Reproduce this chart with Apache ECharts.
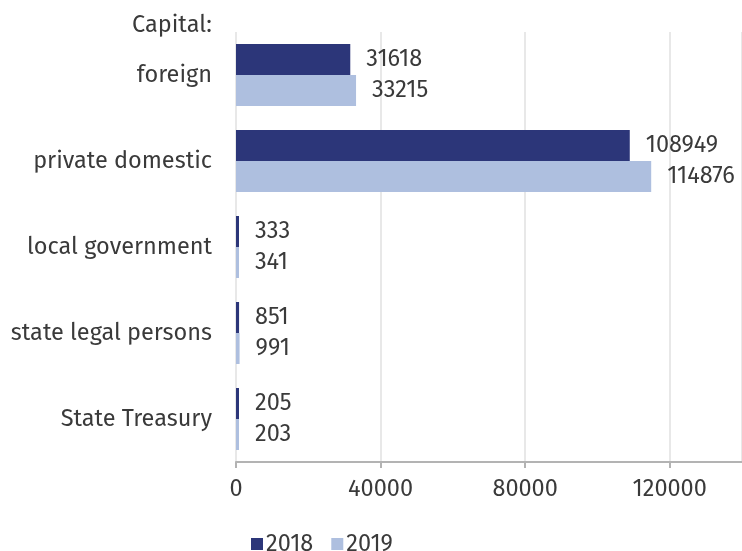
<!DOCTYPE html>
<html>
<head>
<meta charset="utf-8">
<script src="https://cdn.jsdelivr.net/npm/echarts@6/dist/echarts.min.js"></script>
<style>
html,body{margin:0;padding:0;background:#fff;}
#chart{width:742px;height:551px;}
</style>
</head>
<body>
<div id="chart"></div>
<script>
var categories = ['foreign', 'private domestic', 'local government', 'state legal persons', 'State Treasury'];
var values2018 = [31618, 108949, 333, 851, 205];
var values2019 = [33215, 114876, 341, 991, 203];
var seriesNames = ['2018', '2019'];
var headerText = 'Capital:';

var FONT = '"Fira Sans", "Open Sans", "Noto Sans", sans-serif';
var FS = 23.5;
var chart = echarts.init(document.getElementById('chart'), null, {renderer: 'canvas'});
chart.setOption({
  animation: false,
  backgroundColor: '#ffffff',
  textStyle: {fontFamily: FONT},
  title: {
    text: headerText,
    right: 530,
    top: 13,
    padding: 0,
    textStyle: {fontFamily: FONT, fontSize: FS, fontWeight: 'normal', color: '#3a3a3a'}
  },
  legend: {
    data: seriesNames,
    left: 246,
    top: 527,
    itemWidth: 12,
    itemHeight: 12,
    itemGap: 18,
    icon: 'rect',
    textStyle: {fontFamily: FONT, fontSize: FS, color: '#3a3a3a', padding: [0, 0, 0, -2]}
  },
  grid: {left: 236, top: 32, height: 430, width: 511, containLabel: false},
  xAxis: {
    type: 'value',
    min: 0,
    max: 140000,
    interval: 40000,
    axisLine: {show: true, lineStyle: {color: '#b3b3b3', width: 2}},
    axisTick: {show: true, length: 6, lineStyle: {color: '#b3b3b3', width: 2}},
    axisLabel: {fontFamily: FONT, fontSize: FS, color: '#3a3a3a', margin: 15, showMaxLabel: false,
      formatter: function (v) { return String(v); }},
    splitLine: {show: true, lineStyle: {color: '#e8e8e8', width: 2}}
  },
  yAxis: {
    type: 'category',
    data: categories,
    inverse: true,
    axisLine: {show: false},
    axisTick: {show: false},
    axisLabel: {fontFamily: FONT, fontSize: FS, color: '#3a3a3a', margin: 24, padding: [0, 0, 12, 0]}
  },
  series: [
    {
      name: seriesNames[0],
      type: 'bar',
      data: values2018,
      barWidth: 31,
      barGap: '0%',
      barMinHeight: 3,
      itemStyle: {color: '#2c3679'},
      label: {show: true, position: 'right', distance: 16, fontFamily: FONT, fontSize: FS, color: '#3a3a3a'}
    },
    {
      name: seriesNames[1],
      type: 'bar',
      data: values2019,
      barWidth: 31,
      barGap: '0%',
      barMinHeight: 3,
      itemStyle: {color: '#aebfdf'},
      label: {show: true, position: 'right', distance: 16, fontFamily: FONT, fontSize: FS, color: '#3a3a3a'}
    }
  ]
});
</script>
</body>
</html>
